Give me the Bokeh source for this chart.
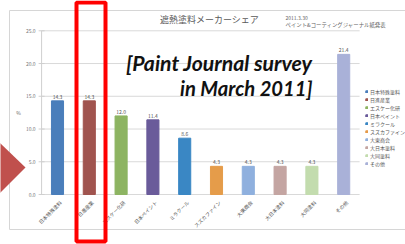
from math import pi
from bokeh.plotting import figure
from bokeh.models import (ColumnDataSource, Range1d, Label, BoxAnnotation,
                          PolyAnnotation, Legend, LegendItem)
from bokeh.core.properties import value
from bokeh.embed import file_html
from bokeh.resources import INLINE

# ---- data ----
companies = ["日本特殊塗料", "日進産業", "エスケー化研", "日本ペイント", "ミラクール",
             "スズカファイン", "大東商会", "大日本塗料", "大同塗料", "その他"]
shares = [14.3, 14.3, 12.0, 11.4, 8.6, 4.3, 4.3, 4.3, 4.3, 21.4]
y_ticks = [0, 5, 10, 15, 20, 25]
title_text = "遮熱塗料メーカーシェア"
source_date = "2011.3.30"
source_text = "ペイント&コーティングジャーナル紙発表"
overlay_lines = ["[Paint Journal survey", "in March 2011]"]
y_unit = "%"

# ---- style ----
colors = ["#4a7ebb", "#a0544f", "#8db462", "#6a5b9a", "#3a87c4",
          "#e59c4a", "#8fb0de", "#c4a5a2", "#c3dcae", "#a9b1d8"]
JP = "Noto Sans CJK JP"
W, H = 405, 244
# plot-area calibration (pixels): first bar centre, bar pitch, y=0 row, px per %
X0, PITCH, Y0, PXU = 57.0, 31.8, 194.0, 6.548

pos = list(range(len(companies)))
lo, hi = -0.5, len(companies) - 0.5

src = ColumnDataSource(dict(x=pos, share=shares, color=colors, company=companies,
                            label=[f"{v:.1f}" for v in shares]))

p = figure(width=W, height=H,
           x_range=Range1d(-X0 / PITCH, (W - X0) / PITCH),
           y_range=Range1d(-(H - Y0) / PXU, Y0 / PXU),
           x_axis_type=None, y_axis_type=None,
           output_backend="svg", toolbar_location=None, min_border=0)
p.outline_line_color = None
p.background_fill_color = "white"
p.border_fill_color = "white"
p.grid.visible = False

# outer faint frame of the pasted chart
p.add_layout(BoxAnnotation(left=9, right=420, top=10, bottom=229,
                           left_units="canvas", right_units="canvas",
                           top_units="canvas", bottom_units="canvas",
                           fill_color=None, line_color="#d6d6d6", line_alpha=1,
                           line_width=1, level="underlay"))

# gridlines and axes (through the data scales)
p.segment(x0=lo, x1=hi, y0=y_ticks, y1=y_ticks, line_color="#d9d9d9", line_width=1)
p.segment(x0=lo, x1=lo, y0=y_ticks[0], y1=y_ticks[-1], line_color="#cfcfcf", line_width=1)
p.scatter(x=[lo] * len(y_ticks), y=y_ticks, marker="dash", size=6,
          line_color="#cfcfcf", line_width=1)
p.text(x=[lo] * len(y_ticks), y=y_ticks, text=[f"{t:.1f}" for t in y_ticks],
       text_align="right", text_baseline="middle", x_offset=-6,
       text_font_size="5px", text_color="#777777", text_font=value(JP))

r = p.vbar(x="x", top="share", width=0.38, color="color", source=src)
p.text(x="x", y="share", text="label", source=src, text_align="center",
       text_baseline="bottom", y_offset=-2, text_font_size="5px",
       text_color="#555555", text_font=value(JP))
p.text(x="x", y=0, text="company", source=src, angle=pi / 4,
       text_align="right", text_baseline="middle", x_offset=3, y_offset=7,
       text_font_size="5px", text_color="#555555", text_font=value(JP))

# legend
legend = Legend(items=[LegendItem(label=c, renderers=[r], index=i)
                       for i, c in enumerate(companies)],
                location=(365, 77), glyph_width=3, glyph_height=3,
                label_text_font_size="5px", label_text_font=JP,
                label_text_color="#555555", label_height=1, spacing=1,
                label_standoff=2, padding=0, margin=0,
                border_line_color=None, background_fill_alpha=0)
p.add_layout(legend)

# texts (canvas pixel units)
p.add_layout(Label(x=209, y=19, x_units="canvas", y_units="canvas", text=title_text,
                   text_font=JP, text_font_size="9px", text_color="#595959",
                   text_align="center", text_baseline="middle"))
p.add_layout(Label(x=285, y=17, x_units="canvas", y_units="canvas", text=source_date,
                   text_font=JP, text_font_size="5px", text_color="#666666",
                   text_align="left", text_baseline="middle"))
p.add_layout(Label(x=285, y=24, x_units="canvas", y_units="canvas", text=source_text,
                   text_font=JP, text_font_size="5.4px", text_color="#666666",
                   text_align="left", text_baseline="middle"))
p.add_layout(Label(x=18, y=112, x_units="canvas", y_units="canvas", text=y_unit,
                   text_font=JP, text_font_size="5px", text_color="#666666",
                   text_align="center", text_baseline="middle"))
for txt, yb, fs in zip(overlay_lines, [62, 87], ["21.2px", "20.2px"]):
    p.add_layout(Label(x=312, y=yb, x_units="canvas", y_units="canvas", text=txt,
                       text_font="Lato", text_font_size=fs,
                       text_font_style="bold italic", text_color="#111111",
                       text_align="right", text_baseline="alphabetic"))

# red arrow and red highlight box
p.add_layout(PolyAnnotation(xs=[-30, 25, -30], ys=[114, 167, 222],
                            xs_units="canvas", ys_units="canvas",
                            fill_color="#c0504d", fill_alpha=1, line_color=None))
p.add_layout(BoxAnnotation(left=76, right=105, top=2, bottom=241,
                           left_units="canvas", right_units="canvas",
                           top_units="canvas", bottom_units="canvas",
                           fill_color=None, line_color="#ff0000", line_alpha=1,
                           line_width=4))

open("out.html", "w").write(file_html(p, INLINE))
